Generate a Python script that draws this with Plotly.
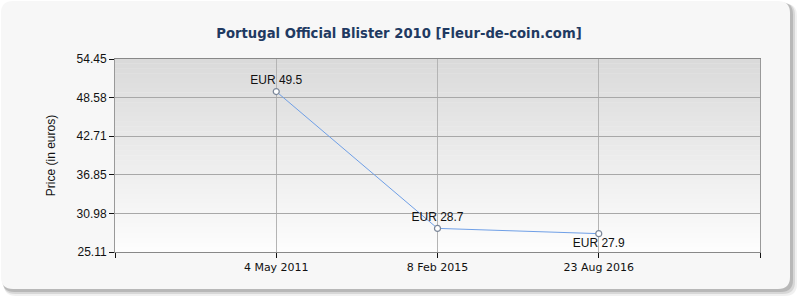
import plotly.graph_objects as go

# ---- data ----
dates = ["4 May 2011", "8 Feb 2015", "23 Aug 2016"]
prices = [49.5, 28.7, 27.9]
labels = ["EUR 49.5", "EUR 28.7", "EUR 27.9"]
label_pos = ["top center", "top center", "bottom center"]
y_ticks = [25.11, 30.98, 36.85, 42.71, 48.58, 54.45]

W, H = 800, 300
L, R, T, B = 115, 760, 59, 252


def px(x):
    return (x - L) / (R - L)


def py(y):
    return (B - y) / (B - T)


def rounded(x0, y0, x1, y1, r):
    # pixel coords -> paper path with rounded corners
    X0, X1 = px(x0), px(x1)
    Y0, Y1 = py(y0), py(y1)
    rx = r / (R - L)
    ry = r / (B - T)
    return (f"M {X0+rx},{Y0} L {X1-rx},{Y0} Q {X1},{Y0} {X1},{Y0-ry} "
            f"L {X1},{Y1+ry} Q {X1},{Y1} {X1-rx},{Y1} L {X0+rx},{Y1} "
            f"Q {X0},{Y1} {X0},{Y1+ry} L {X0},{Y0-ry} Q {X0},{Y0} {X0+rx},{Y0} Z")


shapes = []
# card shadow
for off, col in [(7, "rgba(0,0,0,0.06)"), (5, "rgba(0,0,0,0.10)"),
                 (3, "rgba(0,0,0,0.14)")]:
    shapes.append(dict(type="path", xref="paper", yref="paper", layer="below",
                       path=rounded(1 + off * 0.4, 1 + off * 0.4, 790 + off, 289 + off, 12),
                       fillcolor=col, line=dict(width=0)))
# card
shapes.append(dict(type="path", xref="paper", yref="paper", layer="below",
                   path=rounded(1, 1, 790, 289, 12),
                   fillcolor="#f7f7f7", line=dict(width=0)))
# plot background gradient
N = 40
top = (218, 218, 218)
bot = (253, 253, 253)
for i in range(N):
    t = (i + 0.5) / N
    c = tuple(int(round(top[k] + (bot[k] - top[k]) * t)) for k in range(3))
    shapes.append(dict(type="rect", xref="x domain", yref="y domain", layer="below",
                       x0=0, x1=1, y0=1 - (i + 1) / N, y1=1 - i / N + 0.001,
                       fillcolor=f"rgb{c}", line=dict(width=0)))

xs = list(range(len(dates)))

fig = go.Figure()
fig.add_trace(go.Scatter(
    x=xs, y=prices, mode="lines+markers+text",
    text=labels, textposition=label_pos,
    textfont=dict(family="Liberation Sans, Arial", size=12, color="#111"),
    line=dict(color="#6f9fe6", width=1),
    marker=dict(size=6, color="white", line=dict(color="#7a8698", width=1.2)),
    hoverinfo="skip", cliponaxis=False,
))

fig.update_layout(
    width=W, height=H,
    margin=dict(l=L, r=W - R, t=T, b=H - B),
    paper_bgcolor="white",
    plot_bgcolor="rgba(0,0,0,0)",
    showlegend=False,
    shapes=shapes,
    title=dict(text="Portugal Official Blister 2010 [Fleur-de-coin.com]",
               x=399 / W, xanchor="center", xref="container",
               y=1 - 33 / H, yanchor="middle", yref="container",
               font=dict(family="DejaVu Sans", size=13.2, color="#1f3a62",
                         weight="bold")),
    font=dict(family="Liberation Sans, Arial", size=12, color="#111"),
)

fig.update_xaxes(
    range=[-1, 3], tickmode="array", tickvals=[-1, 0, 1, 2, 3],
    ticktext=["", dates[0], dates[1], dates[2], ""],
    showgrid=True, gridcolor="#b4b4b4", gridwidth=1,
    showline=True, linecolor="#888", linewidth=1, mirror=True,
    ticks="outside", ticklen=5, tickcolor="#111", tickwidth=1,
    zeroline=False,
    tickfont=dict(family="DejaVu Sans", size=11, color="#111"),
)
fig.update_yaxes(
    range=[y_ticks[0], y_ticks[-1]], tickmode="array", tickvals=y_ticks,
    ticktext=[f"{v:.2f}" for v in y_ticks],
    showgrid=True, gridcolor="#a8a8a8", gridwidth=1,
    showline=True, linecolor="#999", linewidth=1, mirror=True,
    ticks="outside", ticklen=5, tickcolor="#111", tickwidth=1,
    zeroline=False,
    title=dict(text="Price (in euros)", standoff=18,
               font=dict(family="Liberation Sans, Arial", size=12, color="#111")),
    tickfont=dict(family="Liberation Sans, Arial", size=12, color="#111"),
)

fig.write_html("out.html")
